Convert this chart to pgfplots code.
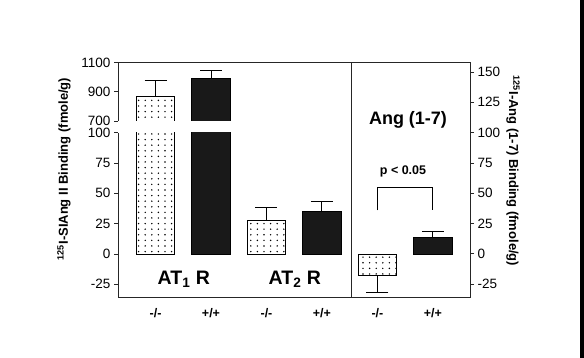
\documentclass[border=0pt]{standalone}
\usepackage{pgfplots}
\pgfplotsset{compat=1.18}
\usepackage{fontspec}
\setmainfont{Liberation Sans}
\usetikzlibrary{patterns}
\pgfdeclarepatternformonly{mydots}{\pgfpoint{-1pt}{-1pt}}{\pgfpoint{1pt}{1pt}}{\pgfpoint{6.6pt}{5.6pt}}{\pgfpathcircle{\pgfpoint{0pt}{0pt}}{0.8pt}\pgfusepath{fill}}
\pgfplotsset{
 base/.style={scale only axis, anchor=south west,
   axis line style={line width=0.9pt, black!85},
   tick style={line width=0.9pt, black!85}, major tick length=4pt, tick align=outside,
   ticklabel style={font=\fontsize{13.5}{15}\selectfont},
   /pgf/number format/assume math mode=true,
   /pgf/number format/1000 sep={}},
 dotbar/.style={ybar, bar width=38.5pt, draw=black, line width=0.8pt, pattern=mydots, pattern color=black},
 blkbar/.style={ybar, bar width=38.5pt, draw=black, fill=black!90, line width=0.8pt},
 eplus/.style={error bars/.cd, y explicit, y dir=plus, error bar style={line width=1pt, black}, error mark options={rotate=90, mark size=11pt, line width=1pt, black}},
 eminus/.style={error bars/.cd, y explicit, y dir=minus, error bar style={line width=1pt, black}, error mark options={rotate=90, mark size=11pt, line width=1pt, black}},
}
\begin{document}
\begin{tikzpicture}
\path[use as bounding box, fill=white] (0pt,0pt) rectangle (584pt,358pt);
\fill[black] (580pt,0pt) rectangle (584pt,358pt);

% lower left
\begin{axis}[base, at={(118pt,61pt)}, width=233pt, height=164.3pt,
  xmin=-0.676, xmax=3.523, ymin=-35.5, ymax=100,
  axis x line*=bottom, axis y line*=left,
  ytick={-25,0,25,50,75,100},
  xtick={0,1,2,3}, xticklabels={-/-,+/+,-/-,+/+},
  x tick style={draw=none},
  xticklabel style={font=\bfseries\fontsize{12.5}{14}\selectfont, yshift=-4pt}]
\addplot[dotbar] coordinates {(0,872)};
\addplot[blkbar] coordinates {(1,990)};
\addplot[dotbar, eplus] coordinates {(2,27.7) +- (0,10.3)};
\addplot[blkbar, eplus] coordinates {(3,35.1) +- (0,7.8)};
\node[font=\bfseries\fontsize{19.5}{22}\selectfont] at (axis cs:0.51,-21.2) {AT\textsubscript{1} R};
\node[font=\bfseries\fontsize{19.5}{22}\selectfont] at (axis cs:2.51,-21.2) {AT\textsubscript{2} R};
\end{axis}

% upper left
\begin{axis}[base, at={(118pt,237pt)}, width=233pt, height=58.3pt,
  xmin=-0.676, xmax=3.523, ymin=700, ymax=1100,
  axis x line*=top, axis y line*=left,
  ytick={700,900,1100}, xtick=\empty]
\addplot[dotbar, eplus] coordinates {(0,872) +- (0,103)};
\addplot[blkbar, eplus] coordinates {(1,990) +- (0,55)};
\end{axis}

% right panel
\begin{axis}[base, at={(351pt,61pt)}, width=119pt, height=234.3pt,
  xmin=-0.477, xmax=1.667, ymin=-35.5, ymax=157.7,
  ytick={-25,0,25,50,75,100,125,150}, ytick pos=right, yticklabel pos=right,
  xtick={0,1}, xticklabels={-/-,+/+}, x tick style={draw=none},
  xticklabel style={font=\bfseries\fontsize{12.5}{14}\selectfont, yshift=-4pt}]
\addplot[dotbar, eminus] coordinates {(0,-18) +- (0,14)};
\addplot[blkbar, eplus] coordinates {(1,14) +- (0,4.3)};
\addplot[black, line width=1pt, mark=none] coordinates {(0,36) (0,54.5) (1,54.5) (1,36)};
\node[font=\bfseries\fontsize{12.5}{14}\selectfont] at (axis cs:0.46,68.2) {p < 0.05};
\node[font=\bfseries\fontsize{18}{20}\selectfont] at (axis cs:0.55,110.8) {Ang (1-7)};
\end{axis}

\node[rotate=90, font=\bfseries\fontsize{13}{15}\selectfont] at (64pt,189pt) {\textsuperscript{125}I-SIAng II Binding (fmole/g)};
\node[rotate=-90, font=\bfseries\fontsize{13}{15}\selectfont] at (513pt,187pt) {\textsuperscript{125}I-Ang (1-7) Binding (fmole/g)};
\end{tikzpicture}
\end{document}
